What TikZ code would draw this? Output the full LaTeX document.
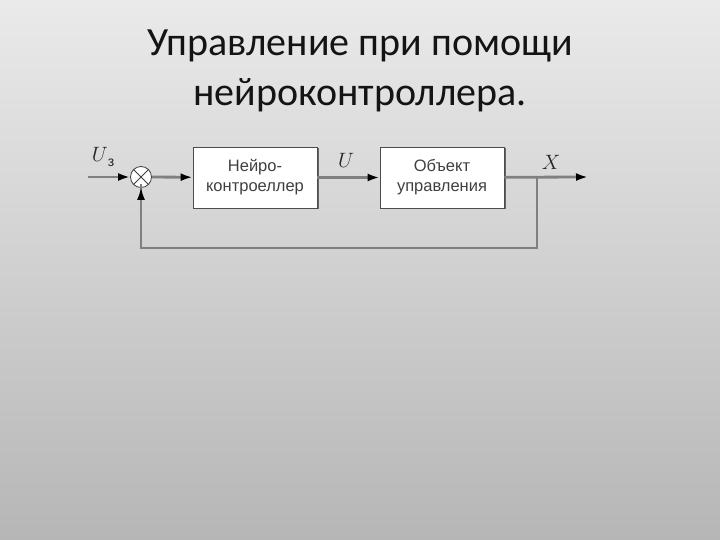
\documentclass[tikz,border=0pt]{standalone}
\usepackage{fontspec}
\setmainfont{Carlito}
\newfontfamily\boxfont{Liberation Sans}
\usetikzlibrary{arrows.meta,shadows}
\definecolor{bgtop}{RGB}{234,234,234}
\definecolor{bgbot}{RGB}{182,182,182}
\definecolor{linec}{RGB}{128,128,128}
\begin{document}
\begin{tikzpicture}[x=1pt,y=-1pt,
  blk/.style={draw=black!70,line width=0.8pt,fill=white,minimum width=124pt,minimum height=61pt,align=center,font=\boxfont\fontsize{16.5}{20}\selectfont,text=black!75,
    drop shadow={shadow xshift=1.5pt,shadow yshift=-1.5pt,fill=black!60,opacity=1}},
  main/.style={draw=linec,line width=2.8pt},
  fb/.style={draw=linec,line width=1.4pt},
  tip/.style={-{Latex[length=12pt,width=8pt,color=black]}},
  lbl/.style={font=\fontsize{22}{24}\selectfont,text=black!85}]
\useasboundingbox (0,0) rectangle (720,540);
\shade[top color=bgtop,bottom color=bgbot] (0,0) rectangle (720,540);
\node[font=\fontsize{40}{50}\selectfont,align=center,text=black!92] (title) at (360,71) {Управление при помощи\\нейроконтроллера.};
\node[circle,draw=black!75,line width=0.8pt,fill=white,minimum size=21pt,inner sep=0pt] (sum) at (141,177) {};
\draw[black!75,line width=0.8pt] (sum.north west) -- (sum.south east) (sum.north east) -- (sum.south west);
\node[blk] (nc) at (255,177.5) {Нейро-\\контроеллер};
\node[blk] (obj) at (442,177.5) {Объект\\управления};
\coordinate (in) at (88,177);
\coordinate (br) at (537,177);
\coordinate (out) at (588,177);
\coordinate (fbr) at (537,248);
\coordinate (fbl) at (141,248);
\draw[main,tip] (in) -- (sum);
\draw[main,tip] (sum) -- (nc);
\draw[main,tip] (nc) -- (obj);
\draw[main,tip] (obj) -- (out);
\draw[fb] (br) -- (fbr) -- (fbl) -- ([yshift=4pt]sum.south);
\draw[fb,-{Latex[length=12pt,width=8pt,color=black]}] (fbl) -- (sum.south);
\node[lbl] (uz) at (103,157) {$U$\raisebox{-5pt}{\boxfont\fontsize{14}{14}\selectfont з}};
\node[lbl] (u) at (346,160) {$U$};
\node[lbl] (x) at (551,162) {$X$};
\end{tikzpicture}
\end{document}
